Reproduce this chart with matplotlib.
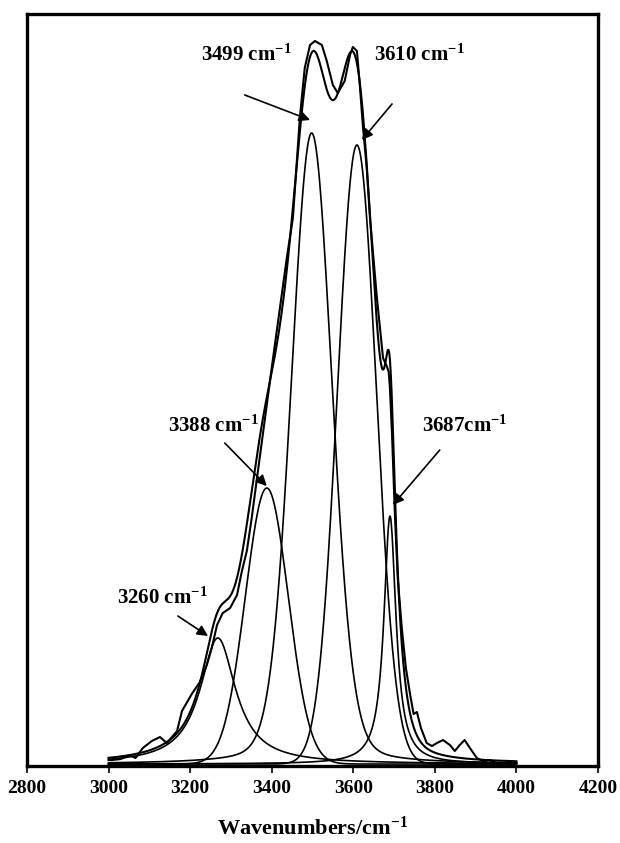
import numpy as np
import matplotlib
matplotlib.use("Agg")
import matplotlib.pyplot as plt

plt.rcParams['font.family'] = 'Liberation Serif'
plt.rcParams['font.weight'] = 'bold'
plt.rcParams['mathtext.fontset'] = 'custom'
plt.rcParams['mathtext.rm'] = 'Liberation Serif:bold'
plt.rcParams['mathtext.it'] = 'Liberation Serif:bold'
plt.rcParams['mathtext.bf'] = 'Liberation Serif:bold'

# fitted bands: centre (cm-1), height (a.u.), half width (cm-1), lorentz fraction
centres = [3268, 3388, 3498, 3609, 3690]
heights = [0.126, 0.276, 0.631, 0.619, 0.248]
hwhm = [53, 62, 59, 56, 18]
lor_frac = [1.0, 0.0, 0.15, 0.0, 1.0]
band_labels = ['3260 cm$^{-1}$', '3388 cm$^{-1}$', '3499 cm$^{-1}$',
               '3610 cm$^{-1}$', '3687cm$^{-1}$']

meas_wn = [3000, 3008, 3030, 3052, 3066, 3084, 3106, 3126, 3143, 3168, 3180,
           3204, 3224, 3241, 3253, 3266, 3280, 3298, 3315, 3327, 3339, 3351,
           3364, 3400, 3437, 3452, 3469, 3481, 3494, 3506, 3523, 3535, 3550,
           3562, 3579, 3592, 3599, 3609, 3616, 3624, 3633, 3641, 3658, 3673,
           3682, 3687, 3690, 3695, 3702, 3709, 3719, 3729, 3740, 3748, 3756,
           3766, 3780, 3793, 3805, 3820, 3837, 3849, 3861, 3873, 3886, 3903,
           3918, 3935, 3952, 3975, 4000]
meas_abs = [0.004, 0.004, 0.005, 0.009, 0.006, 0.016, 0.023, 0.027, 0.021,
            0.033, 0.053, 0.070, 0.082, 0.099, 0.116, 0.139, 0.151, 0.156,
            0.169, 0.193, 0.213, 0.246, 0.286, 0.396, 0.506, 0.546, 0.646,
            0.696, 0.719, 0.723, 0.719, 0.703, 0.679, 0.671, 0.683, 0.709,
            0.717, 0.713, 0.679, 0.636, 0.596, 0.546, 0.466, 0.406, 0.398,
            0.392, 0.375, 0.330, 0.250, 0.186, 0.136, 0.096, 0.068, 0.050,
            0.052, 0.036, 0.021, 0.018, 0.021, 0.024, 0.019, 0.013, 0.019,
            0.024, 0.016, 0.006, 0.003, 0.004, 0.001, 0.001, 0.001]

# label text position and arrow (start, tip) per band
label_xy = [(3131, 0.166), (3256, 0.338), (3339, 0.709), (3763, 0.709), (3874, 0.338)]
arrow_from = [(3170, 0.148), (3285, 0.321), (3334, 0.669), (3695, 0.660), (3812, 0.314)]
arrow_to = [(3244, 0.128), (3388, 0.278), (3494, 0.644), (3621, 0.624), (3697, 0.259)]


def band(x, c, h, w, eta):
    g = np.exp(-np.log(2) * ((x - c) / w) ** 2)
    l = 1.0 / (1.0 + ((x - c) / w) ** 2)
    return h * (eta * l + (1 - eta) * g)


wn = np.arange(3000, 4001, 1.0)
comps = [band(wn, c, h, w, e) for c, h, w, e in zip(centres, heights, hwhm, lor_frac)]
total = np.sum(comps, axis=0)

fig = plt.figure(figsize=(6.2, 8.43), dpi=100)
ax = fig.add_axes([0.0435, 0.0913, 0.921, 0.8921])

for comp in comps:
    ax.plot(wn, comp, color='black', lw=1.2)
ax.plot(wn, total, color='black', lw=1.5)
ax.plot(meas_wn, meas_abs, color='black', lw=1.5)

for txt, xy, a0, a1 in zip(band_labels, label_xy, arrow_from, arrow_to):
    ax.text(xy[0], xy[1], txt, ha='center', va='center', fontsize=15, fontweight='bold')
    ax.annotate('', xy=a1, xytext=a0,
                arrowprops=dict(arrowstyle='-|>', color='black', lw=1.2,
                                mutation_scale=16, shrinkA=0, shrinkB=0))

ax.set_xlim(2800, 4200)
ax.set_ylim(-0.002, 0.750)
ax.set_xticks(np.arange(2800, 4201, 200))
ax.set_yticks([])
ax.tick_params(axis='x', direction='out', length=5, width=1.2, labelsize=14, pad=5)
for lab in ax.get_xticklabels():
    lab.set_fontweight('bold')
for sp in ax.spines.values():
    sp.set_linewidth(2.4)
ax.set_xlabel('Wavenumbers/cm$^{-1}$', fontsize=16, fontweight='bold', labelpad=14)

fig.savefig('out.png', dpi=100)
